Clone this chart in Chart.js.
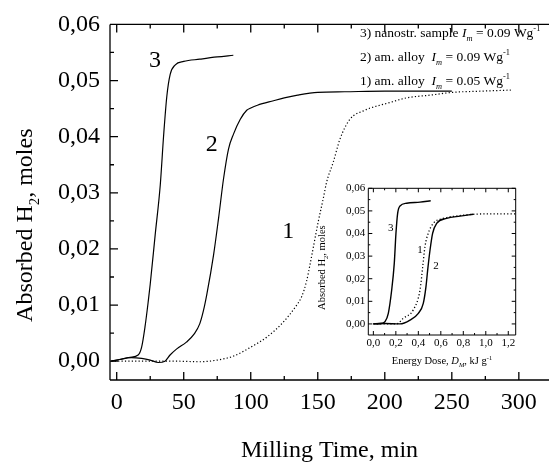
<!DOCTYPE html>
<html>
<head>
<meta charset="utf-8">
<script src="https://cdn.jsdelivr.net/npm/chart.js@4/dist/chart.umd.min.js"></script>
<style>
  html, body { margin: 0; padding: 0; background: #fff; }
  #wrap { position: relative; width: 549px; height: 462px; overflow: hidden; }
  #main { position: absolute; left: 0; top: 0; }
  #inset { position: absolute; left: 300px; top: 170px; }
</style>
</head>
<body>
<div id="wrap">
  <canvas id="main" width="549" height="462"></canvas>
  <canvas id="inset" width="249" height="200"></canvas>
</div>
<script>
// ---------- DATA: main chart (Milling time, min  vs  absorbed H2, moles) ----------
const mainXTicks = [0, 50, 100, 150, 200, 250, 300];
const mainXMinor = [25, 75, 125, 175, 225, 275];
const mainYTicks = [0, 0.01, 0.02, 0.03, 0.04, 0.05, 0.06];
const mainYMinor = [0.005, 0.015, 0.025, 0.035, 0.045, 0.055];

// curve 1: am. alloy, Im = 0.05 W/g (dotted)
const time1 = [-4, 20, 45, 62, 75, 87, 100, 112, 124, 134, 138, 141.7, 144.2, 150.4, 154.1, 156.6, 161.6, 166.6, 174, 184, 204, 216, 234, 251, 271, 294];
const h2_1  = [0, 0, 0, -0.0001, 0.0002, 0.0009, 0.0025, 0.0043, 0.0069, 0.0099, 0.0115, 0.0143, 0.0172, 0.0249, 0.029, 0.0319, 0.0355, 0.0396, 0.0431, 0.0446, 0.0461, 0.0469, 0.0474, 0.0479, 0.0481, 0.0483];
// curve 2: am. alloy, Im = 0.09 W/g
const time2 = [-4, 2, 11, 18.6, 25, 31, 36, 39.8, 44.8, 52, 58, 62, 64.7, 67.3, 72.3, 76, 79.7, 83.4, 87.2, 92.2, 97, 100, 105, 117, 125, 135, 150, 170, 200, 230, 250];
const h2_2  = [0, 0.0003, 0.00065, 0.0005, 0.0002, -0.00023, 0, 0.0011, 0.0022, 0.0034, 0.0049, 0.0067, 0.009, 0.012, 0.019, 0.0255, 0.0325, 0.0378, 0.0405, 0.0431, 0.0447, 0.0451, 0.0456, 0.0464, 0.0469, 0.0474, 0.0479, 0.048, 0.0481, 0.0481, 0.0481];
// curve 3: nanostr. sample, Im = 0.09 W/g
const time3 = [-4, 2, 10, 16, 18.6, 21.1, 23.6, 25, 28.7, 32.5, 35, 37.4, 39.9, 43.7, 50, 62, 75, 87];
const h2_3  = [0, 0.0003, 0.0007, 0.0011, 0.0025, 0.0061, 0.0108, 0.0137, 0.0225, 0.0314, 0.0402, 0.0472, 0.0511, 0.0528, 0.0534, 0.0538, 0.0542, 0.0545];

// ---------- DATA: inset (Energy dose, kJ/g  vs  absorbed H2, moles) ----------
const insetXTicks = [0, 0.2, 0.4, 0.6, 0.8, 1.0, 1.2];
const insetXMinor = [0.1, 0.3, 0.5, 0.7, 0.9, 1.1];
const insetYTicks = [0, 0.01, 0.02, 0.03, 0.04, 0.05, 0.06];
const insetYMinor = [0.005, 0.015, 0.025, 0.035, 0.045, 0.055];

const dose1 = [0, 0.1, 0.207, 0.266, 0.355, 0.415, 0.439, 0.459, 0.488, 0.533, 0.622, 0.75, 0.889, 1.037, 1.266];
const ins1  = [0, 0, 0, 0.0025, 0.0062, 0.015, 0.0253, 0.0342, 0.0401, 0.0445, 0.0467, 0.0478, 0.0485, 0.0487, 0.0487];
const dose2 = [0, 0.1, 0.237, 0.326, 0.4, 0.444, 0.468, 0.483, 0.504, 0.527, 0.563, 0.652, 0.77, 0.889];
const ins2  = [0, 0.0002, 0, 0.0017, 0.0047, 0.0091, 0.0165, 0.0238, 0.0327, 0.0401, 0.0445, 0.0467, 0.0477, 0.0485];
const dose3 = [0, 0.075, 0.103, 0.133, 0.163, 0.186, 0.201, 0.216, 0.237, 0.296, 0.415, 0.51];
const ins3  = [0, 0.0003, 0.001, 0.0047, 0.015, 0.0268, 0.0401, 0.0489, 0.0522, 0.0534, 0.0539, 0.0545];

// ---------- helpers ----------
const FAMILY = "'Liberation Serif', 'Times New Roman', serif";
const pts = (xs, ys) => xs.map((x, i) => ({ x: x, y: ys[i] }));
const comma = (v, d) => v.toFixed(d).replace('.', ',');

function drawRich(ctx, segs, x, y, size, align) {
  const parts = segs.map(([t, st]) => {
    const small = st === 'sub' || st === 'isub' || st === 'sup';
    const it = st === 'i' || st === 'isub';
    const font = (it ? 'italic ' : '') + (small ? size * 0.62 : size) + 'px ' + FAMILY;
    ctx.font = font;
    const w = ctx.measureText(t).width;
    const dy = (st === 'sub' || st === 'isub') ? size * 0.28 : (st === 'sup' ? -size * 0.42 : 0);
    return { t, font, w, dy };
  });
  const total = parts.reduce((s, p) => s + p.w, 0);
  let cx = align === 'center' ? x - total / 2 : x;
  ctx.textAlign = 'left';
  ctx.textBaseline = 'alphabetic';
  for (const p of parts) { ctx.font = p.font; ctx.fillText(p.t, cx, y + p.dy); cx += p.w; }
}

// frame + inward ticks + decorations
const framePlugin = {
  id: 'frame',
  afterDraw(chart, args, o) {
    const { ctx, chartArea: a, scales: { x, y } } = chart;
    ctx.save();
    ctx.strokeStyle = '#000';
    ctx.lineWidth = o.lw;
    ctx.beginPath();
    if (o.sides.includes('top')) { ctx.moveTo(a.left, a.top); ctx.lineTo(a.right, a.top); }
    if (o.sides.includes('bottom')) { ctx.moveTo(a.left, a.bottom); ctx.lineTo(a.right, a.bottom); }
    if (o.sides.includes('left')) { ctx.moveTo(a.left, a.top); ctx.lineTo(a.left, a.bottom); }
    if (o.sides.includes('right')) { ctx.moveTo(a.right, a.top); ctx.lineTo(a.right, a.bottom); }
    const xt = (vals, len) => vals.forEach(v => {
      if (v < x.min || v > x.max) return;
      const px = x.getPixelForValue(v);
      if (o.sides.includes('bottom')) { ctx.moveTo(px, a.bottom); ctx.lineTo(px, a.bottom - len); }
      if (o.sides.includes('top')) { ctx.moveTo(px, a.top); ctx.lineTo(px, a.top + len); }
    });
    const yt = (vals, len) => vals.forEach(v => {
      if (v < y.min || v > y.max) return;
      const py = y.getPixelForValue(v);
      if (o.sides.includes('left')) { ctx.moveTo(a.left, py); ctx.lineTo(a.left + len, py); }
      if (o.sides.includes('right')) { ctx.moveTo(a.right, py); ctx.lineTo(a.right - len, py); }
    });
    xt(o.xMajor, o.major); xt(o.xMinor, o.minor);
    yt(o.yMajor, o.major); yt(o.yMinor, o.minor);
    ctx.stroke();

    ctx.fillStyle = '#000';
    // curve number labels
    for (const l of o.labels) {
      ctx.font = o.labelSize + 'px ' + FAMILY;
      ctx.textAlign = 'center';
      ctx.textBaseline = 'middle';
      ctx.fillText(l.text, x.getPixelForValue(l.x), y.getPixelForValue(l.y));
    }
    // axis titles
    drawRich(ctx, o.xTitle.segs, (a.left + a.right) / 2 + o.xTitle.dx, o.xTitle.y, o.xTitle.size, 'center');
    ctx.save();
    ctx.translate(o.yTitle.x, (a.top + a.bottom) / 2 + o.yTitle.dy);
    ctx.rotate(-Math.PI / 2);
    drawRich(ctx, o.yTitle.segs, 0, 0, o.yTitle.size, 'center');
    ctx.restore();
    // extra text lines
    for (const n of (o.notes || [])) drawRich(ctx, n.segs, n.x, n.y, n.size, 'left');
    ctx.restore();
  }
};

const lineDs = (data, dotted, w) => ({
  data, borderColor: '#000', borderWidth: w, pointRadius: 0, fill: false,
  borderDash: dotted ? [1.2, 2.2] : [], cubicInterpolationMode: 'monotone'
});
const noGrid = { display: false, drawTicks: false, tickLength: 0 };

// ---------- main chart ----------
new Chart(document.getElementById('main'), {
  type: 'line',
  data: {
    datasets: [
      lineDs(pts(time1, h2_1), true, 1.2),
      lineDs(pts(time2, h2_2), false, 1.2),
      lineDs(pts(time3, h2_3), false, 1.2)
    ]
  },
  options: {
    responsive: false, animation: false,
    layout: { padding: { top: 21, left: 0, right: 0, bottom: 0 } },
    plugins: {
      legend: { display: false }, tooltip: { enabled: false },
      frame: {
        lw: 1.3, sides: ['left', 'bottom', 'top'], major: 8, minor: 4,
        xMajor: mainXTicks, xMinor: mainXMinor, yMajor: mainYTicks, yMinor: mainYMinor,
        labelSize: 24,
        labels: [ { text: '1', x: 128, y: 0.0231 }, { text: '2', x: 71, y: 0.0386 }, { text: '3', x: 28.6, y: 0.0535 } ],
        xTitle: { segs: [['Milling Time, min', 'n']], dx: 0, y: 457, size: 24 },
        yTitle: { segs: [['Absorbed H', 'n'], ['2', 'sub'], [', moles', 'n']], x: 32, dy: 23, size: 24 },
        notes: [
          { x: 360, y: 37, size: 13.5, segs: [['3) nanostr. sample ', 'n'], ['I', 'i'], ['m', 'isub'], [' = 0.09 Wg', 'n'], ['-1', 'sup']] },
          { x: 360, y: 61, size: 13.5, segs: [['2) am. alloy  ', 'n'], ['I', 'i'], ['m', 'isub'], [' = 0.09 Wg', 'n'], ['-1', 'sup']] },
          { x: 360, y: 85, size: 13.5, segs: [['1) am. alloy  ', 'n'], ['I', 'i'], ['m', 'isub'], [' = 0.05 Wg', 'n'], ['-1', 'sup']] }
        ]
      }
    },
    scales: {
      x: {
        type: 'linear', min: -5, max: 322.5,
        grid: noGrid, border: { display: false },
        afterBuildTicks: s => { s.ticks = mainXTicks.map(v => ({ value: v })); },
        afterFit: s => { s.height = 82; },
        ticks: { color: '#000', font: { family: FAMILY, size: 24 }, padding: 8, maxRotation: 0, autoSkip: false, callback: v => String(v) }
      },
      y: {
        type: 'linear', min: -0.00335, max: 0.06,
        grid: noGrid, border: { display: false },
        afterBuildTicks: s => { s.ticks = mainYTicks.map(v => ({ value: v })); },
        afterFit: s => { s.width = 110; },
        ticks: { color: '#000', font: { family: FAMILY, size: 24 }, padding: 10, autoSkip: false, callback: v => comma(v, 2) }
      }
    }
  },
  plugins: [framePlugin]
});

// ---------- inset chart ----------
new Chart(document.getElementById('inset'), {
  type: 'line',
  data: {
    datasets: [
      lineDs(pts(dose1, ins1), true, 1.3),
      lineDs(pts(dose2, ins2), false, 1.4),
      lineDs(pts(dose3, ins3), false, 1.4)
    ]
  },
  options: {
    responsive: false, animation: false,
    layout: { padding: { top: 18.3, left: 0, right: 33.3, bottom: 0 } },
    plugins: {
      legend: { display: false }, tooltip: { enabled: false },
      frame: {
        lw: 1, sides: ['left', 'bottom', 'top', 'right'], major: 4, minor: 2,
        xMajor: insetXTicks, xMinor: insetXMinor, yMajor: insetYTicks, yMinor: insetYMinor,
        labelSize: 11,
        labels: [ { text: '3', x: 0.154, y: 0.0423 }, { text: '1', x: 0.415, y: 0.0327 }, { text: '2', x: 0.557, y: 0.0256 } ],
        xTitle: { segs: [['Energy Dose, ', 'n'], ['D', 'i'], ['M', 'isub'], [', kJ g', 'n'], ['-1', 'sup']], dx: 0, y: 194, size: 10.5 },
        yTitle: { segs: [['Absorbed H', 'n'], ['2', 'sub'], [', moles', 'n']], x: 25, dy: 6, size: 10.5 },
        notes: []
      }
    },
    scales: {
      x: {
        type: 'linear', min: -0.045, max: 1.266,
        grid: noGrid, border: { display: false },
        afterBuildTicks: s => { s.ticks = insetXTicks.map(v => ({ value: v })); },
        afterFit: s => { s.height = 35; },
        ticks: { color: '#000', font: { family: FAMILY, size: 11 }, padding: 2, maxRotation: 0, autoSkip: false, callback: v => comma(v, 1) }
      },
      y: {
        type: 'linear', min: -0.0049, max: 0.06,
        grid: noGrid, border: { display: false },
        afterBuildTicks: s => { s.ticks = insetYTicks.map(v => ({ value: v })); },
        afterFit: s => { s.width = 68.3; },
        ticks: { color: '#000', font: { family: FAMILY, size: 11 }, padding: 3, autoSkip: false, callback: v => comma(v, 2) }
      }
    }
  },
  plugins: [framePlugin]
});
</script>
</body>
</html>
